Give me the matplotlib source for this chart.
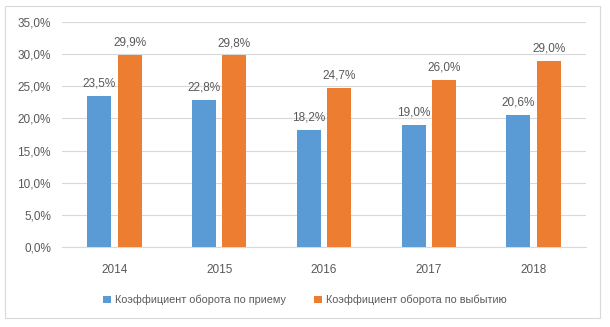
import matplotlib.pyplot as plt
import matplotlib.patches as mpatches
import numpy as np

plt.rcParams['font.family'] = ['Liberation Sans', 'DejaVu Sans']

years = ['2014', '2015', '2016', '2017', '2018']
hire_rate = [23.5, 22.8, 18.2, 19.0, 20.6]
leave_rate = [29.9, 29.8, 24.7, 26.0, 29.0]
series_names = ['Коэффициент оборота по приему', 'Коэффициент оборота по выбытию']

blue = '#5B9BD5'
orange = '#ED7D31'
text_col = '#595959'

fig = plt.figure(figsize=(6.10, 3.27), dpi=100)
ax = fig.add_axes([62 / 610, 1 - 247 / 327, 524 / 610, 225 / 327])

x = np.arange(len(years))
w = 0.23
off = 0.145
b1 = ax.bar(x - off, hire_rate, w, color=blue, label=series_names[0], zorder=3)
b2 = ax.bar(x + off, leave_rate, w, color=orange, label=series_names[1], zorder=3)

for bars, vals in ((b1, hire_rate), (b2, leave_rate)):
    for r, v in zip(bars, vals):
        ax.text(r.get_x() + r.get_width() / 2, v + 1.0, f'{v:.1f}%'.replace('.', ','),
                ha='center', va='bottom', fontsize=8.5, color=text_col)

ax.set_xlim(-0.5, len(years) - 0.5)
ax.set_ylim(0, 35)
ax.set_yticks(np.arange(0, 36, 5))
ax.set_yticklabels([f'{t:.1f}%'.replace('.', ',') for t in np.arange(0, 36, 5)])
ax.set_xticks(x)
ax.set_xticklabels(years)
ax.tick_params(axis='both', length=0, labelsize=8.5, labelcolor=text_col)
ax.tick_params(axis='x', pad=12)
ax.tick_params(axis='y', pad=8)
ax.grid(axis='y', color='#D9D9D9', linewidth=0.8, zorder=0)
for s in ('top', 'right', 'left'):
    ax.spines[s].set_visible(False)
ax.spines['bottom'].set_color('#D9D9D9')

fig.legend(loc='center', bbox_to_anchor=(305 / 610, 1 - 300 / 327), ncol=2, frameon=False,
           fontsize=7.8, labelcolor=text_col, handlelength=0.7, handleheight=0.7,
           handletextpad=0.4, columnspacing=2.6)

fig.patches.append(mpatches.Rectangle((5 / 610, 1 - 318 / 327), 595 / 610, 312 / 327,
                                      transform=fig.transFigure, fill=False,
                                      edgecolor='#D9D9D9', linewidth=0.8))

fig.savefig('out.png', dpi=100)
